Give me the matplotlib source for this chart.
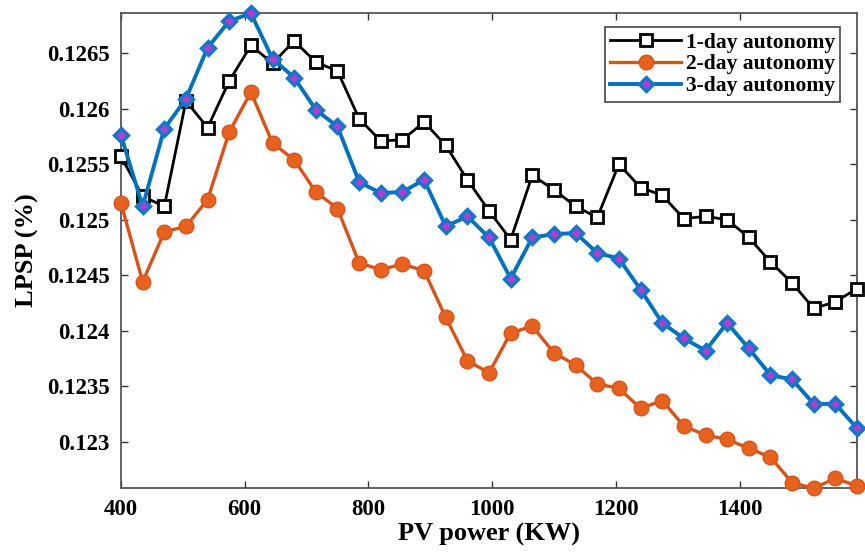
import matplotlib
matplotlib.use("Agg")
import matplotlib.pyplot as plt

# PV power (kW) sampled every 35 kW
pv_power = [400, 435, 470, 505, 540, 575, 610, 645, 680, 715, 750, 785,
            820, 855, 890, 925, 960, 995, 1030, 1065, 1100, 1135, 1170,
            1205, 1240, 1275, 1310, 1345, 1380, 1415, 1450, 1485, 1520,
            1555, 1590]

lpsp_1day = [0.12557, 0.12521, 0.12512, 0.12607, 0.12583, 0.12625, 0.12657,
             0.12641, 0.12661, 0.12642, 0.12634, 0.12591, 0.12571, 0.12572,
             0.12588, 0.12567, 0.12536, 0.12508, 0.12482, 0.12540, 0.12527,
             0.12512, 0.12502, 0.12550, 0.12529, 0.12522, 0.12501, 0.12503,
             0.12500, 0.12484, 0.12462, 0.12443, 0.12420, 0.12426, 0.12438]

lpsp_2day = [0.12515, 0.12444, 0.12489, 0.12494, 0.12518, 0.12579, 0.12615,
             0.12569, 0.12554, 0.12525, 0.12510, 0.12461, 0.12455, 0.12460,
             0.12454, 0.12412, 0.12373, 0.12362, 0.12398, 0.12404, 0.12380,
             0.12369, 0.12352, 0.12348, 0.12330, 0.12337, 0.12314, 0.12306,
             0.12302, 0.12294, 0.12286, 0.12263, 0.12258, 0.12267, 0.12260]

lpsp_3day = [0.12576, 0.12512, 0.12582, 0.12609, 0.12655, 0.12679, 0.12686,
             0.12645, 0.12628, 0.12599, 0.12584, 0.12534, 0.12524, 0.12525,
             0.12536, 0.12494, 0.12503, 0.12484, 0.12447, 0.12484, 0.12487,
             0.12488, 0.12470, 0.12465, 0.12437, 0.12407, 0.12393, 0.12382,
             0.12407, 0.12384, 0.12360, 0.12356, 0.12334, 0.12334, 0.12312]

series_labels = ["1-day autonomy", "2-day autonomy", "3-day autonomy"]

x_ticks = [400, 600, 800, 1000, 1200, 1400]
y_ticks = [0.123, 0.1235, 0.124, 0.1245, 0.125, 0.1255, 0.126, 0.1265]
y_tick_labels = ["0.123", "0.1235", "0.124", "0.1245", "0.125", "0.1255",
                 "0.126", "0.1265"]

plt.rcParams["font.family"] = ["Liberation Serif", "DejaVu Serif"]
plt.rcParams["font.weight"] = "bold"

fig = plt.figure(figsize=(8.65, 5.52), dpi=100)
ax = fig.add_axes([0.1399, 0.1165, 0.8509, 0.8600])

ax.plot(pv_power, lpsp_1day, color="black", lw=2.0, marker="s", ms=8.5,
        mfc="white", mec="black", mew=2.0, label=series_labels[0],
        clip_on=False, zorder=3)
ax.plot(pv_power, lpsp_2day, color="#D95319", lw=2.4, marker="o", ms=10.5,
        mfc="#E8621F", mec="#D95319", mew=1.0, label=series_labels[1],
        clip_on=False, zorder=3)
ax.plot(pv_power, lpsp_3day, color="#0072BD", lw=2.8, marker="D", ms=7.0,
        mfc="#B03FD0", mec="#1177CC", mew=2.4, label=series_labels[2],
        clip_on=False, zorder=4)

ax.set_xlim(400, 1590)
ax.set_ylim(0.122585, 0.126863)
ax.set_xticks(x_ticks)
ax.set_yticks(y_ticks)
ax.set_yticklabels(y_tick_labels)

ax.tick_params(axis="both", direction="in", length=5, width=1.0,
               top=True, right=True, labelsize=16.5, color="#333333")
ax.tick_params(axis="x", pad=8)
ax.tick_params(axis="y", pad=8)
for lbl in ax.get_xticklabels() + ax.get_yticklabels():
    lbl.set_fontweight("bold")

for spine in ax.spines.values():
    spine.set_color("#555555")
    spine.set_linewidth(1.3)

ax.set_xlabel("PV power (KW)", fontsize=19, fontweight="bold", labelpad=2)
ax.set_ylabel("LPSP (%)", fontsize=19, fontweight="bold", labelpad=6)

leg = ax.legend(loc="upper right", bbox_to_anchor=(0.977, 0.970),
                borderaxespad=0, handlelength=3.3,
                handletextpad=0.2, labelspacing=0.08, borderpad=0.25,
                fancybox=False, framealpha=1, edgecolor="#444444",
                prop={"weight": "bold", "size": 15.5})
leg.get_frame().set_linewidth(1.2)

fig.savefig("out.png", dpi=100)
